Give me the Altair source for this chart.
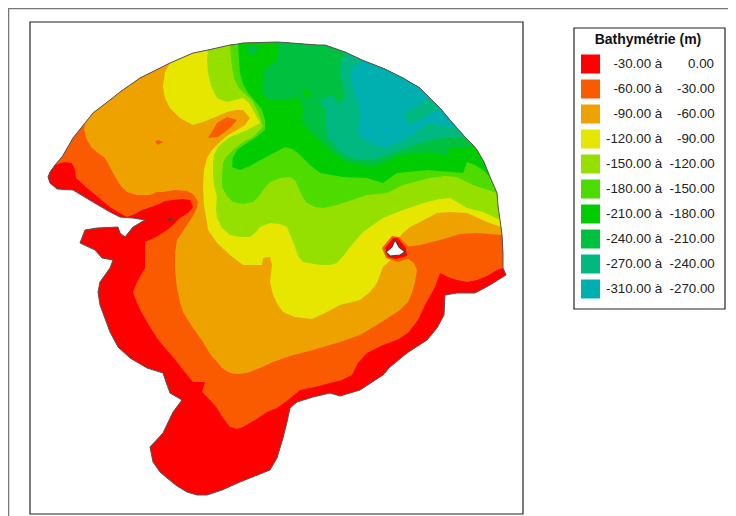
import altair as alt

NB = "\u00a0"
ZW = "\u200b"

# depth classes, shallowest first, as in the legend
class_low = ["-30.00", "-60.00", "-90.00", "-120.00", "-150.00", "-180.00", "-210.00", "-240.00", "-270.00", "-310.00"]
class_high = ["0.00", "-30.00", "-60.00", "-90.00", "-120.00", "-150.00", "-180.00", "-210.00", "-240.00", "-270.00"]
class_colors = ["#ff0000", "#fa5a00", "#eea200", "#e6e600", "#96e000", "#4ddb00", "#00cc00", "#00c040", "#00b880", "#00b0b0"]


def pad(v):
    # a digit is 2 spaces wide, a minus sign about 1 space
    extra = 7 - len(v)
    n = extra * 2 - (1 if not v.startswith("-") else 0)
    return NB * n


labels = [f"{ZW}{pad(a)}{a} à{NB}{NB}{pad(b)}{b}" for a, b in zip(class_low, class_high)]

# coastline, north arc, west to east (map coordinates)
north_coast = [(55,165),(62,157),(73,138),(85,123),(93,113),(110,100),(120,92),(140,78),(170,63),(193,53),(208,50),
               (230,45),(238,44),(243,43),(278,42),(317,45),(325,45),(345,52),(362,60),(385,69),(403,78),(420,88),
               (430,98),(440,108),(450,120),(457,128),(465,137),(473,145),(477,150),(484,162),(490,177),(497,193),
               (498,206),(500,220),(501,227),(502,235),(503,253),(503,268)]
# coastline, south and west, east to west
south_coast = [(506,275),(490,285),(475,293),(457,293),(445,295),(444,315),(437,328),(427,340),(407,353),(390,367),
               (383,375),(360,390),(340,396),(330,393),(313,397),(297,402),(290,408),(287,422),(283,438),(277,458),
               (270,470),(255,476),(240,482),(222,490),(207,495),(197,495),(187,492),(177,486),(167,478),(160,472),
               (153,462),(150,447),(163,433),(173,412),(182,400),(170,393),(166,382),(163,373),(147,368),(130,358),
               (118,347),(110,332),(100,305),(98,292),(100,282),(110,268),(113,260),(102,258),(95,250),(80,243),
               (85,230),(97,228),(118,227),(120,233),(125,237),(133,227),(145,220),(133,218),(120,217),(110,212),
               (93,202),(73,190),(57,189),(50,183),(48,177),(50,172)]

# isobaths, west to east; each runs from one coast point to another
iso_30 = [(55,165),(64,162),(72,163),(75,170),(76,178),(87,188),(98,197),(110,207),(118,212),(127,217),(135,214),(142,210),
          (157,205),(165,201),(173,200),(183,199),(190,200),(193,207),(188,213),(180,218),(173,225),(167,230),(156,237),
          (145,242),(145,255),(145,268),(138,280),(133,292),(137,303),(143,315),(150,327),(157,338),(165,348),(173,357),
          (183,370),(193,382),(205,382),(202,392),(210,400),(217,408),(223,418),(230,427),(237,429),(243,427),(255,420),
          (267,412),(277,408),(288,400),(300,390),(315,387),(330,383),(342,380),(352,375),(358,363),(367,353),(383,345),
          (397,340),(408,333),(418,320),(425,305),(430,296),(435,287),(440,273),(448,277),(457,280),(467,282),(477,280),
          (487,276),(497,270),(503,268)]
iso_60 = [(85,123),(84,130),(87,140),(92,148),(98,153),(105,158),(110,167),(113,173),(120,185),(127,192),(137,195),(150,195),
          (157,192),(163,192),(175,190),(187,191),(194,195),(198,202),(197,208),(193,216),(185,228),(177,240),(175,252),
          (175,268),(176,280),(177,288),(180,302),(183,312),(193,328),(203,342),(210,354),(217,362),(223,369),(230,373),
          (238,374),(247,373),(260,368),(273,362),(290,356),(313,350),(340,342),(360,335),(380,323),(400,310),(408,302),
          (412,293),(415,282),(417,270),(414,263),(407,258),(405,247),(420,245),(440,240),(460,234),(477,233),(490,234),
          (502,235)]
iso_90 = [(170,63),(165,72),(163,87),(165,98),(170,108),(180,118),(193,125),(203,122),(213,118),(227,112),(236,110),(243,110),
          (250,118),(245,125),(237,130),(228,135),(220,142),(212,150),(207,158),(204,170),(203,187),(204,205),(207,223),
          (208,230),(217,243),(230,255),(243,265),(262,265),(263,258),(270,257),(272,265),(270,282),(273,295),(278,305),
          (283,312),(295,317),(312,319),(325,313),(340,305),(360,300),(370,292),(377,283),(380,275),(383,267),(393,258),
          (393,245),(403,233),(410,227),(420,222),(437,213),(450,212),(467,213),(487,222),(501,227)]
iso_120 = [(208,50),(207,60),(208,73),(211,86),(217,98),(227,102),(243,98),(249,103),(253,110),(260,123),(247,130),(230,137),
           (222,143),(218,147),(214,155),(213,163),(213,175),(214,185),(217,197),(216,208),(217,218),(222,228),(230,235),
           (240,237),(250,237),(256,232),(260,227),(270,223),(280,224),(287,227),(291,237),(295,247),(298,256),(303,262),
           (320,265),(330,265),(337,263),(344,255),(350,247),(363,232),(383,218),(403,210),(427,202),(440,199),(450,198),
           (459,203),(467,208),(483,212),(500,220)]
iso_150 = [(230,45),(231,57),(232,67),(234,78),(238,87),(245,94),(252,100),(258,112),(263,127),(253,137),(243,142),(233,150),
           (226,157),(223,163),(222,175),(222,187),(227,196),(233,202),(243,204),(253,202),(259,196),(263,190),(270,182),
           (280,178),(290,177),(295,180),(298,187),(302,196),(307,203),(315,207),(323,208),(333,206),(343,203),(367,195),
           (387,193),(403,185),(430,178),(445,176),(457,177),(465,181),(473,185),(497,193)]
iso_180 = [(238,44),(239,60),(240,73),(243,84),(248,93),(255,101),(262,110),(265,120),(265,130),(256,137),(247,143),(238,149),
           (233,157),(232,167),(240,170),(250,166),(257,162),(270,155),(285,147),(292,149),(298,153),(310,165),(320,173),
           (343,177),(367,178),(383,183),(397,173),(427,170),(463,173),(467,162),(475,165),(483,170),(490,177)]
iso_210 = [(278,42),(278,60),(265,68),(262,85),(263,95),(270,100),(280,100),(300,98),(303,108),(302,120),(308,130),(317,137),
           (332,152),(347,162),(373,167),(385,162),(400,155),(430,152),(447,155),(450,147),(470,147),(473,145)]
iso_240 = [(345,52),(341,62),(340,73),(343,85),(345,97),(338,105),(333,95),(320,100),(325,110),(326,125),(327,137),(337,149),
           (348,157),(360,160),(373,160),(393,153),(420,143),(447,137),(465,137)]
iso_270 = [(362,60),(354,67),(350,73),(352,85),(358,102),(360,117),(357,133),(365,140),(377,146),(387,147),(403,140),(420,130),
           (428,123),(440,125),(457,128)]

# small patches: (class index, outline)
patches = [
    (1, [(208,138),(213,130),(217,123),(227,117),(237,120),(230,128),(218,137)]),
    (1, [(155,142),(158,140),(163,142),(158,145)]),
    (7, [(247,46),(257,45),(258,52),(252,55),(247,53)]),
    (6, [(302,90),(309,90),(310,97),(305,98)]),
    (8, [(403,115),(410,125),(423,118),(440,108),(430,98)]),
    (1, [(382,248),(392,236),(399,237),(408,246),(410,258),(398,262),(386,258)]),
    (0, [(385,248),(393,238),(398,238),(406,248),(407,256),(396,259),(388,257)]),
]
hole = [(395,240),(392,247),(386,252),(390,256),(400,255),(405,252),(399,247)]
spot = [(169,219),(172,219),(172,220),(169,220)]

# frames: (outline)
inner_frame = [(30,22),(523,22),(523,514),(30,514),(30,22)]
legend_box = [(574,28),(725,28),(725,309),(574,309),(574,28)]
outer_frame = [(8,516),(8,8),(728,8)]


def arc(a, b):
    return north_coast[north_coast.index(a): north_coast.index(b) + 1]


def close(pts):
    pts = [list(p) for p in pts]
    return pts + [pts[0]]


def ring(iso):
    pts = arc(iso[0], iso[-1]) + list(reversed(iso[1:-1]))
    return close(pts)


def feature(pts, classe=None, geom="Polygon"):
    coords = [pts] if geom == "Polygon" else [list(p) for p in pts]
    return {"type": "Feature", "geometry": {"type": geom, "coordinates": coords}, "properties": {"classe": classe}}


whole = close(north_coast + south_coast)
fills = [feature(whole, labels[0])]
for i, iso in enumerate([iso_30, iso_60, iso_90, iso_120, iso_150, iso_180, iso_210, iso_240, iso_270], start=1):
    fills.append(feature(ring(iso), labels[i]))
for idx, pts in patches:
    fills.append(feature(close(pts), labels[idx]))

projection = dict(type="identity")

layer_fill = alt.Chart(alt.Data(values=fills)).mark_geoshape(strokeWidth=0.3).encode(
    color=alt.Color(
        "properties.classe:N",
        scale=alt.Scale(domain=labels, range=class_colors),
        sort=labels,
        legend=alt.Legend(
            title="Bathymétrie (m)",
            orient="none",
            legendX=573,
            legendY=24.5,
            padding=0,
            symbolType="square",
            symbolSize=361,
            symbolStrokeWidth=0,
            symbolOpacity=1,
            labelFont="Liberation Sans",
            labelFontSize=13.3,
            labelColor="#222222",
            labelOffset=6,
            labelLimit=200,
            rowPadding=6,
            titleFont="Liberation Sans",
            titleFontSize=14,
            titleFontWeight="bold",
            titleColor="#111111",
            titleAnchor="middle",
            titlePadding=8,
            labelOverlap=False,
            values=labels,
        ),
    ),
).project(**projection)

layer_coast = alt.Chart(alt.Data(values=[feature(whole)])).mark_geoshape(
    filled=False, stroke="#555555", strokeWidth=1
).project(**projection)

layer_hole = alt.Chart(alt.Data(values=[feature(close(hole)), feature(close(spot))])).mark_geoshape(
    fill="white", stroke="#444444", strokeWidth=1.2
).project(**projection)

layer_frames = alt.Chart(alt.Data(values=[feature(inner_frame), feature(legend_box)])).mark_geoshape(
    filled=False, stroke="#222222", strokeWidth=1.2
).project(**projection)

layer_outer = alt.Chart(alt.Data(values=[feature(outer_frame, geom="LineString")])).mark_geoshape(
    filled=False, stroke="#777777", strokeWidth=2.5
).project(**projection)

chart = alt.layer(layer_outer, layer_frames, layer_fill, layer_coast, layer_hole).properties(
    width=720, height=508, padding=0, autosize="none", background="white"
).configure_view(stroke=None)

chart.save("out.html", embed_options={"renderer": "svg", "actions": False})
